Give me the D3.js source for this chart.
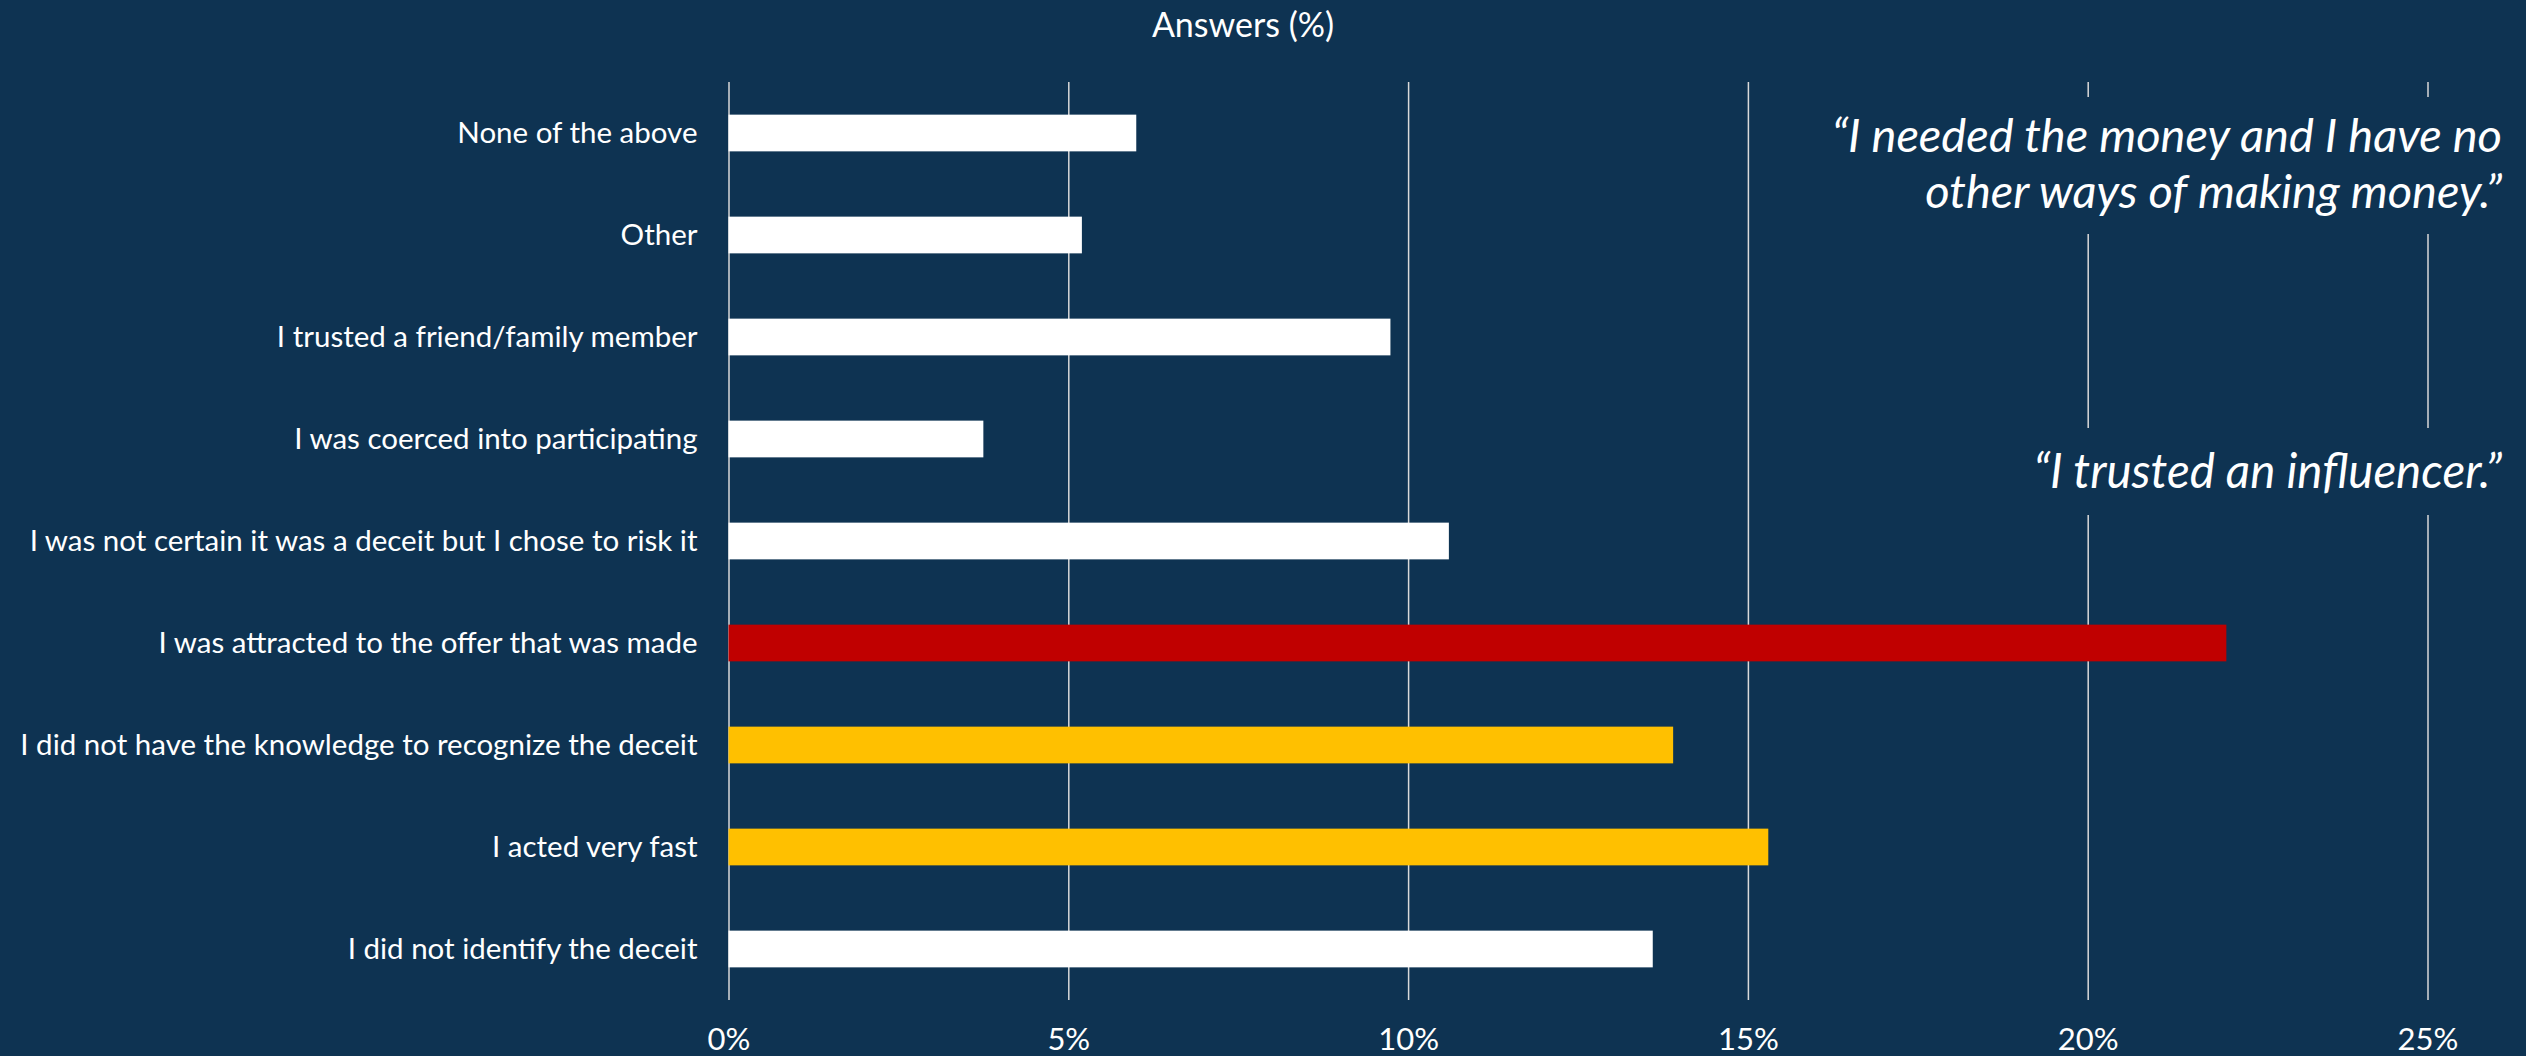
<!DOCTYPE html>
<html>
<head>
<meta charset="utf-8">
<script src="https://cdn.jsdelivr.net/npm/d3@7/dist/d3.min.js"></script>
<style>
  html, body { margin: 0; padding: 0; background: #0E3352; }
  svg { display: block; }
  text { font-family: Lato, "Open Sans", sans-serif; fill: #ffffff; }
</style>
</head>
<body>
<svg id="chart" width="2526" height="1056"></svg>
<script>
// Survey answers, in display order from top to bottom
const categories = [
  "None of the above",
  "Other",
  "I trusted a friend/family member",
  "I was coerced into participating",
  "I was not certain it was a deceit but I chose to risk it",
  "I was attracted to the offer that was made",
  "I did not have the knowledge to recognize the deceit",
  "I acted very fast",
  "I did not identify the deceit"
];
// Share of answers (%)
const values = [6.0, 5.2, 9.74, 3.75, 10.6, 22.04, 13.9, 15.3, 13.6];
// Emphasis group of each answer
const emphasis = ["base", "base", "base", "base", "base", "top", "second", "second", "base"];
const xTicks = [0, 5, 10, 15, 20, 25];
const axisTitle = "Answers (%)";
const quotes = [
  ["\u201CI needed the money and I have no", "other ways of making money.\u201D"],
  ["\u201CI trusted an influencer.\u201D"]
];

const colorOf = { base: "#ffffff", top: "#C00000", second: "#FFC000" };
const bg = "#0E3352";

const svg = d3.select("#chart");
const W = 2526, H = 1056;
svg.append("rect").attr("width", W).attr("height", H).attr("fill", bg);

const plot = { left: 728.5, right: 2427.5, top: 82, bottom: 1000 };

const x = d3.scaleLinear().domain([0, 25]).range([plot.left, plot.right]);
const y = d3.scaleBand().domain(categories).range([plot.top, plot.bottom])
  .paddingInner(0.64).paddingOuter(0.32);

// Vertical gridlines and percentage tick labels
const xAxis = d3.axisBottom(x)
  .tickValues(xTicks)
  .tickFormat(d => d + "%")
  .tickSizeInner(-(plot.bottom - plot.top))
  .tickSizeOuter(0)
  .tickPadding(28);

const gx = svg.append("g").attr("transform", `translate(0,${plot.bottom})`).call(xAxis);
gx.select(".domain").remove();
gx.selectAll(".tick line").attr("stroke", "#D9D9D9").attr("stroke-width", 1.5);
gx.selectAll(".tick text")
  .attr("fill", "#ffffff")
  .style("font-family", "Lato, sans-serif")
  .style("font-size", "31px");

// Quote panels sit above the gridlines
const quoteG = svg.append("g");
const q1 = quoteG.append("g");
q1.append("rect").attr("x", 1800).attr("y", 97).attr("width", 720).attr("height", 137).attr("fill", bg);
q1.append("text")
  .attr("text-anchor", "end")
  .style("font-style", "italic")
  .style("font-size", "47px")
  .selectAll("tspan").data(quotes[0]).join("tspan")
  .attr("x", 2502)
  .attr("y", (d, i) => 152 + i * 56)
  .text(d => d);

const q2 = quoteG.append("g");
q2.append("rect").attr("x", 2000).attr("y", 428).attr("width", 520).attr("height", 87).attr("fill", bg);
q2.append("text")
  .attr("text-anchor", "end")
  .style("font-style", "italic")
  .style("font-size", "47.5px")
  .selectAll("tspan").data(quotes[1]).join("tspan")
  .attr("x", 2502)
  .attr("y", 488)
  .text(d => d);

// Bars
svg.append("g").selectAll("rect").data(categories).join("rect")
  .attr("x", x(0))
  .attr("y", d => y(d))
  .attr("width", (d, i) => x(values[i]) - x(0))
  .attr("height", y.bandwidth())
  .attr("fill", (d, i) => colorOf[emphasis[i]]);

// Category labels
svg.append("g").selectAll("text").data(categories).join("text")
  .attr("x", plot.left - 31)
  .attr("y", d => y(d) + y.bandwidth() / 2)
  .attr("dy", "0.35em")
  .attr("text-anchor", "end")
  .style("font-size", "29.5px")
  .text(d => d);

// Axis title
svg.append("text")
  .attr("x", 1243)
  .attr("y", 37)
  .attr("text-anchor", "middle")
  .style("font-size", "34px")
  .text(axisTitle);
</script>
</body>
</html>
